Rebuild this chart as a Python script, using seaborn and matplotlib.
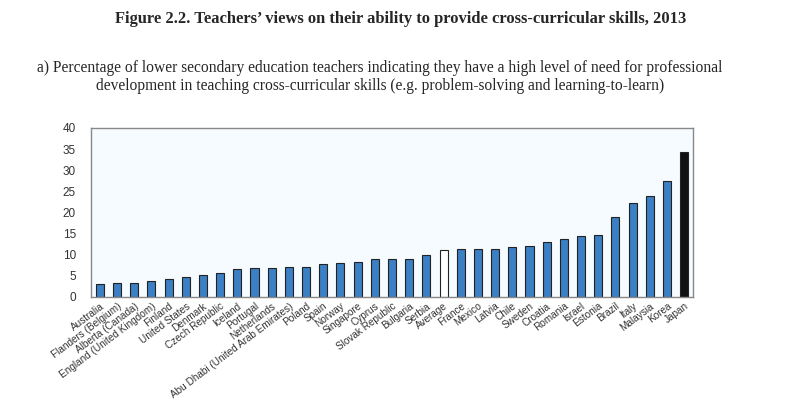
import matplotlib
matplotlib.use("Agg")
import matplotlib.pyplot as plt
import seaborn as sns
import pandas as pd
import numpy as np

countries = ["Australia", "Flanders (Belgium)", "Alberta (Canada)", "England (United Kingdom)",
             "Finland", "United States", "Denmark", "Czech Republic", "Iceland", "Portugal",
             "Netherlands", "Abu Dhabi (United Arab Emirates)", "Poland", "Spain", "Norway",
             "Singapore", "Cyprus", "Slovak Republic", "Bulgaria", "Serbia", "Average",
             "France", "Mexico", "Latvia", "Chile", "Sweden", "Croatia", "Romania", "Israel",
             "Estonia", "Brazil", "Italy", "Malaysia", "Korea", "Japan"]
values = [3.1, 3.2, 3.2, 3.7, 4.3, 4.8, 5.1, 5.6, 6.6, 6.8,
          6.8, 7.1, 7.1, 7.8, 8.0, 8.3, 8.9, 9.0, 9.0, 10.0, 11.1,
          11.2, 11.2, 11.2, 11.7, 12.0, 13.0, 13.7, 14.5, 14.6, 18.9,
          22.3, 23.8, 27.4, 34.4]
yticks = [0, 5, 10, 15, 20, 25, 30, 35, 40]

BLUE = "#3b7fc4"
colors = []
for c in countries:
    if c == "Average":
        colors.append("white")
    elif c == "Japan":
        colors.append("#111111")
    else:
        colors.append(BLUE)

df = pd.DataFrame({"country": countries, "value": values})

sns.set_style("white")
plt.rcParams["font.family"] = ["Liberation Sans", "DejaVu Sans"]

fig = plt.figure(figsize=(8, 4.18), dpi=100)
ax = fig.add_axes([0.114, 0.290, 0.752, 0.404])
ax.set_facecolor("#f6fbff")

sns.barplot(data=df, x="country", y="value", hue="country", palette=colors,
            legend=False, width=0.47, edgecolor="#222222", linewidth=0.8, ax=ax,
            saturation=1)

ax.set_ylim(0, 40)
ax.set_xlim(-0.5, len(countries) - 0.5)
ax.set_yticks(yticks)
ax.set_yticklabels([str(t) for t in yticks], fontsize=8.5, color="#333333")
ax.tick_params(axis="y", length=0, pad=11)
ax.set_xticks(range(len(countries)))
ax.set_xticklabels(countries, rotation=37, ha="right", rotation_mode="anchor",
                   fontsize=7.2, color="#333333")
ax.tick_params(axis="x", which="major", length=0, pad=3)
ax.set_xticks(np.arange(len(countries) - 1) + 0.5, minor=True)
ax.tick_params(axis="x", which="minor", direction="in", length=3, width=0.8, color="#333333")
ax.set_xlabel("")
ax.set_ylabel("")
for s in ax.spines.values():
    s.set_visible(True)
    s.set_color("#888888")
    s.set_linewidth(1.0)

fig.text(0.501, 0.955, "Figure 2.2. Teachers\u2019 views on their ability to provide cross-curricular skills, 2013",
         ha="center", va="center", fontsize=11.9, fontweight="bold",
         family=["Liberation Serif", "DejaVu Serif"])
fig.text(0.475, 0.816, "a) Percentage of lower secondary education teachers indicating they have a high level of need for professional\ndevelopment in teaching cross-curricular skills (e.g. problem-solving and learning-to-learn)",
         ha="center", va="center", fontsize=11.2, linespacing=1.15,
         family=["Liberation Serif", "DejaVu Serif"])

fig.savefig("out.png", dpi=100)
